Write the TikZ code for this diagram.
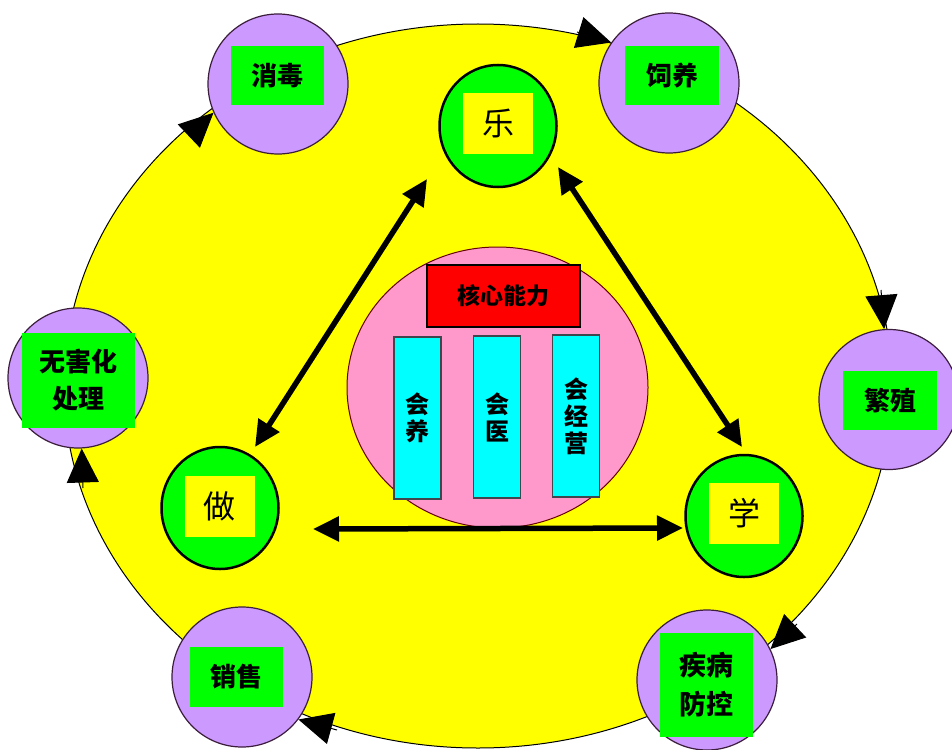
\documentclass[tikz,border=0pt]{standalone}
\usepackage{fontspec}
\newfontfamily\cjk{Noto Sans CJK SC}
\usetikzlibrary{shapes.geometric,arrows.meta}
\definecolor{yel}{RGB}{255,255,0}
\definecolor{lav}{RGB}{204,153,255}
\definecolor{grn}{RGB}{0,255,0}
\definecolor{pnk}{RGB}{255,153,204}
\definecolor{cyn}{RGB}{0,255,255}
\definecolor{rd}{RGB}{255,0,0}
\definecolor{edgepurple}{RGB}{60,30,60}
\begin{document}
\begin{tikzpicture}[x=1pt,y=-1pt,
  outer/.style={circle,fill=lav,draw=edgepurple,line width=1.2pt,minimum size=140pt,inner sep=0pt},
  lab/.style={fill=grn,inner sep=0pt,align=center,font=\cjk\bfseries\fontsize{26}{37}\selectfont},
  tri/.style={ellipse,fill=grn,draw=black,line width=2.5pt,minimum width=117pt,minimum height=122pt,inner sep=0pt},
  sq/.style={fill=yel,inner sep=0pt,minimum width=70pt,minimum height=61pt,font=\cjk\fontsize{32}{36}\selectfont},
  pillar/.style={fill=cyn,draw=black!80!cyan,line width=1.5pt,minimum width=47pt,minimum height=162pt,inner sep=0pt,align=center,font=\cjk\bfseries\fontsize{24}{27}\selectfont},
  dbl/.style={{Triangle[length=26pt,width=24pt]}-{Triangle[length=26pt,width=24pt]},line width=5.5pt},
  cyc/.style={-{Triangle[length=34pt,width=32pt]},line width=1pt}
]
\useasboundingbox (0,0) rectangle (952,749);
\fill[white] (0,0) rectangle (952,749);
% big yellow ring
\node[ellipse,fill=yel,draw=black,line width=1pt,minimum width=828pt,minimum height=724pt,inner sep=0pt] (ring) at (478,386) {};
% core
\node[ellipse,fill=pnk,draw=black!60!red,line width=1pt,minimum width=301pt,minimum height=281pt,inner sep=0pt] (core) at (497.5,387.5) {};
\node[fill=rd,draw=black,line width=2pt,minimum width=153pt,minimum height=62pt,inner sep=0pt,font=\cjk\bfseries\fontsize{23}{26}\selectfont] (hexin) at (503.5,296) {核心能力};
\node[pillar] (huiyang) at (417.5,418) {会\\养};
\node[pillar] (huiyi) at (497,417) {会\\医};
\node[pillar] (huijing) at (576,416) {会\\经\\营};
% triangle nodes
\node[tri] (le) at (498,126) {};
\node[sq] (le-t) at (498,123.5) {乐};
\node[tri] (zuo) at (220,508) {};
\node[sq] (zuo-t) at (219.5,506) {做};
\node[tri] (xue) at (744,516) {};
\node[sq] (xue-t) at (744,513) {学};
% double arrows
\coordinate (lz1) at (427,179);
\coordinate (lz2) at (255,447);
\coordinate (lx1) at (558,167);
\coordinate (lx2) at (742,447);
\coordinate (zx1) at (313,529);
\coordinate (zx2) at (683,528);
\draw[dbl] (lz1) -- (lz2);
\draw[dbl] (lx1) -- (lx2);
\draw[dbl] (zx1) -- (zx2);
% outer circles
\node[outer] (xiaodu) at (278,84) {};
\node[lab,minimum width=93pt,minimum height=59pt] (xiaodu-t) at (277.5,75.5) {消毒};
\node[outer] (siyang) at (669,83) {};
\node[lab,minimum width=94pt,minimum height=59pt] (siyang-t) at (672,75.5) {饲养};
\node[outer] (fanzhi) at (889,399.5) {};
\node[lab,minimum width=94pt,minimum height=59pt] (fanzhi-t) at (890,400.5) {繁殖};
\node[outer] (jibing) at (707,680) {};
\node[lab,minimum width=93pt,minimum height=104pt,font=\cjk\bfseries\fontsize{27}{39}\selectfont] (jibing-t) at (706.5,685) {疾病\\防控};
\node[outer] (xiaoshou) at (242,677) {};
\node[lab,minimum width=93pt,minimum height=60pt] (xiaoshou-t) at (236.5,677) {销售};
\node[outer] (wuhai) at (78,378) {};
\node[lab,minimum width=113pt,minimum height=95pt] (wuhai-t) at (78.5,380) {无害化\\处理};
% cycle arrows
\coordinate (c1) at (577,32);
\coordinate (c2) at (881,290);
\coordinate (c3) at (797,624);
\coordinate (c4) at (337,730);
\coordinate (c5) at (83,488);
\coordinate (c6) at (190,135);
\draw[cyc] (c1) -- (siyang.145);
\draw[cyc] (c2) -- (fanzhi.94);
\draw[cyc] (c3) -- (jibing.26);
\draw[cyc] (c4) -- (xiaoshou.323);
\draw[cyc] (c5) -- (wuhai.273);
\draw[cyc] (c6) -- (xiaodu.204);
\end{tikzpicture}
\end{document}
